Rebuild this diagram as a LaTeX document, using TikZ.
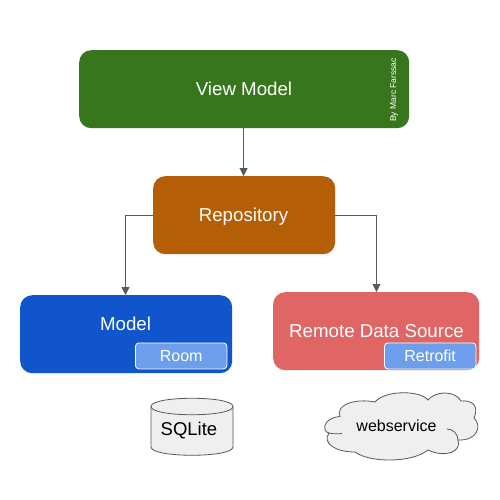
\documentclass[tikz,border=0pt]{standalone}
\usepackage{fontspec}
\setmainfont{Liberation Sans}
\usetikzlibrary{arrows.meta}
\definecolor{vm}{HTML}{38761D}
\definecolor{repo}{HTML}{B45F06}
\definecolor{mod}{HTML}{1155CC}
\definecolor{rem}{HTML}{E06666}
\definecolor{tag}{HTML}{6D9EEB}
\definecolor{lnk}{HTML}{595959}
\definecolor{shp}{HTML}{EFEFEF}
\tikzset{
  x=1pt,y=-1pt,
  bigbox/.style={rounded corners=12pt,draw=none,inner sep=0pt,anchor=north west},
  bigtext/.style={text=white,inner sep=0pt,font=\fontsize{18.7}{22}\selectfont},
  tagbox/.style={rounded corners=3.5pt,draw=white,line width=0.8pt,fill=tag,text=white,font=\fontsize{16}{19}\selectfont,inner sep=0pt,anchor=north west,minimum width=91.5pt,minimum height=26pt},
  conn/.style={draw=lnk,line width=0.9pt,-{Triangle[length=8pt,width=8pt]}},
  outl/.style={draw=lnk,line width=0.8pt,fill=shp},
  inl/.style={draw=lnk,line width=0.8pt},
  plain/.style={text=black,inner sep=0pt}
}
\begin{document}
\begin{tikzpicture}
\useasboundingbox (0,0) rectangle (500,500);
\fill[white] (0,0) rectangle (500,500);
\node[bigbox,fill=vm,minimum width=330pt,minimum height=78pt] (vmb) at (79,50) {};
\node[bigtext] (vmt) at (244,89) {View Model};
\node[text=white,inner sep=0pt,rotate=90,font=\fontsize{8.5}{10}\selectfont] (by) at (394,90) {By Marc Farssac};
\node[bigbox,fill=repo,minimum width=182pt,minimum height=78pt] (rp) at (153,176) {};
\node[bigtext] (rpt) at (243.5,217) {Repository};
\node[bigbox,fill=mod,minimum width=212pt,minimum height=78pt] (md) at (20,295) {};
\node[bigtext] (mdt) at (125.5,324) {Model};
\node[bigbox,fill=rem,minimum width=206pt,minimum height=78pt] (rm) at (273,292) {};
\node[bigtext] (rmt) at (376.5,331) {Remote Data Source};
\node[tagbox] (room) at (135,342.5) {Room};
\node[tagbox] (retro) at (384,342.5) {Retrofit};
\draw[conn] ([xshift=-0.6pt]vmb.south) -- ([xshift=-0.6pt]rp.north);
\draw[conn] (rp.west) -| (mdt.north |- md.north);
\draw[conn] (rp.east) -| (rmt.north |- rm.north);
% cylinder
\draw[outl] (151,406.5) .. controls (151,395.5) and (233,395.5) .. (233,406.5) -- (233,447) .. controls (233,458) and (151,458) .. (151,447) -- cycle;
\draw[inl] (151,406.5) .. controls (151,417.5) and (233,417.5) .. (233,406.5);
\node[plain,font=\fontsize{18.5}{22}\selectfont] (sq) at (189,431) {SQLite};
% cloud
\draw[outl] (340,416.5)
 .. controls (322,418) and (322,432) .. (329,433)
 .. controls (322,443) and (335,452) .. (355,452)
 .. controls (370,463) and (412,463) .. (428,450)
 .. controls (445,458) and (462,452) .. (458,440)
 .. controls (478,441) and (482,425) .. (474,418)
 .. controls (480,404) and (470,400) .. (461,401)
 .. controls (455,390) and (435,391) .. (428,400)
 .. controls (420,390) and (385,390) .. (375,402)
 .. controls (355,398) and (335,405) .. (340,416.5) -- cycle;
\draw[inl] (329,433) .. controls (333,434) and (338,434) .. (342,433.5);
\draw[inl] (458,440) .. controls (458,434) and (453,429) .. (447,429);
\node[plain,font=\fontsize{16}{19}\selectfont] (ws) at (396.5,426) {webservice};
\end{tikzpicture}
\end{document}
